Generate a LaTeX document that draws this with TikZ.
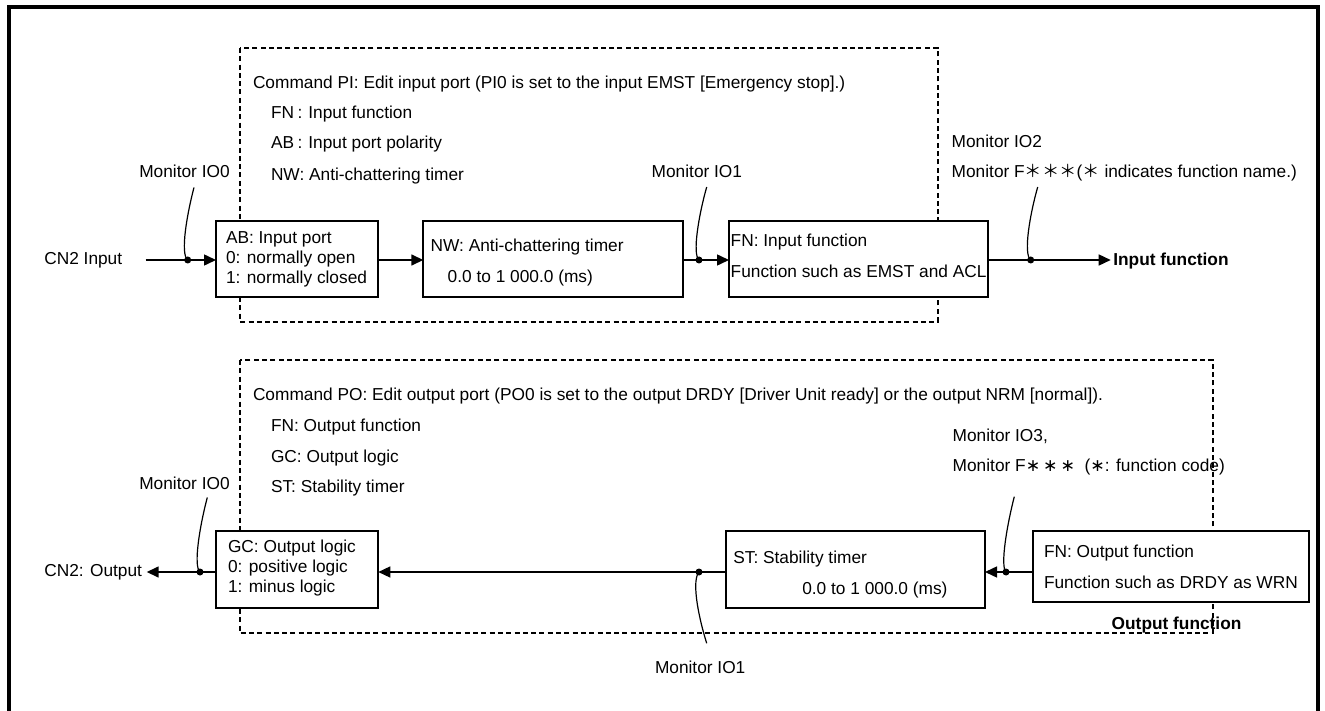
\documentclass[tikz,border=0pt]{standalone}
\usepackage{fontspec}
\setmainfont{Liberation Sans}
\newfontfamily\cjk{Noto Sans CJK JP}
\newfontfamily\dvs{DejaVu Sans}
\usetikzlibrary{arrows.meta}
\begin{document}
\begin{tikzpicture}[x=1pt,y=-1pt,
  every node/.style={inner sep=0pt,outer sep=0pt,font=\fontsize{17.3}{20}\selectfont},
  txt/.style={anchor=base west},
  boxx/.style={draw,line width=1.8pt,fill=white,rectangle},
  dsh/.style={line width=1.8pt,dash pattern=on 5pt off 3.3pt},
  arr/.style={line width=1.5pt,-{Triangle[length=12pt,width=11pt]}},
  dotc/.style={circle,fill=black,minimum size=7pt},
  lead/.style={line width=1.2pt}]
\useasboundingbox (0,0) rectangle (1325,711);
% outer frame
\draw[line width=4.2pt] (8.7,711) -- (8.7,7.2) -- (1318,7.2) -- (1318,711);
% dashed groups
\draw[dsh] (240,48) rectangle (937.7,321.7);
\draw[dsh] (240,360) rectangle (1212.7,633.3);
% flow line levels
\coordinate (uline) at (0,260);
\coordinate (lline) at (0,572);
% ---------- upper ----------
\node[txt] (cmdpi) at (253,88.3) {Command PI: Edit input port (PI0 is set to the input EMST [Emergency stop].)};
\node[txt] (pifn) at (271,118.3) {FN\hspace{3.5pt}:\hspace{6pt}Input function};
\node[txt] (piab) at (271,149) {AB\hspace{3.5pt}:\hspace{6pt}Input port polarity};
\node[txt] (pinw) at (271,181) {NW: Anti-chattering timer};
\node[txt] (mio0u) at (139.3,177.3) {Monitor IO0};
\node[txt] (cn2in) at (44.3,265) {CN2 Input};
\node[txt] (mio1u) at (651.7,177.3) {Monitor IO1};
\node[txt] (mio2) at (951.7,147.3) {Monitor IO2};
\node[txt] (mfu) at (951.7,177.3) {Monitor F{\cjk ＊＊＊}({\cjk ＊} indicates function name.)};
\node[txt,font=\fontsize{17.3}{20}\selectfont\bfseries] (infn) at (1113.3,265.7) {Input function};

\node[boxx,minimum width=162.3pt,minimum height=76.3pt] (ab) at (297.15,259.15) {};
\node[boxx,minimum width=259.7pt,minimum height=76.3pt] (nw) at (553.15,259.15) {};
\node[boxx,minimum width=259.3pt,minimum height=76.3pt] (fni) at (858.65,259.15) {};

\node[txt] (abt1) at (226,243.3) {AB: Input port};
\node[txt] (abt2) at (226,263.3) {0: normally open};
\node[txt] (abt3) at (226,283.3) {1: normally closed};
\node[txt] (nwt1) at (430.7,251.7) {NW: Anti-chattering timer};
\node[txt] (nwt2) at (447.7,282.7) {0.0 to 1 000.0 (ms)};
\node[txt] (fnt1) at (730.7,246.7) {FN: Input function};
\node[txt] (fnt2) at (730.7,277.7) {Function such as EMST and ACL};

\coordinate (cn2inend) at (145.7,260);
\draw[arr] (cn2inend) -- (ab.west |- uline);
\draw[arr] (ab.east |- uline) -- (nw.west |- uline);
\draw[arr] (nw.east |- uline) -- (fni.west |- uline);
\draw[arr] (fni.east |- uline) -- ([xshift=-2.6pt]infn.west |- uline);

\node[dotc] (d0) at (187.7,260) {};
\node[dotc] (d1) at (699,260) {};
\node[dotc] (d2) at (1030.7,260) {};
\coordinate (l0) at (194,187.5);
\coordinate (l1) at (706.7,187);
\coordinate (l2) at (1037.7,187);
\draw[lead] (l0) .. controls (187,214) and (180,254) .. (d0.center);
\draw[lead] (l1) .. controls (699,214) and (692,254) .. (d1.center);
\draw[lead] (l2) .. controls (1030,214) and (1023,254) .. (d2.center);

% ---------- lower ----------
\node[txt] (cmdpo) at (253,400) {Command PO: Edit output port (PO0 is set to the output DRDY [Driver Unit ready] or the output NRM [normal]).};
\node[txt] (pofn) at (271,431) {FN: Output function};
\node[txt] (pogc) at (271,462) {GC: Output logic};
\node[txt] (post) at (271,492.7) {ST: Stability timer};
\node[txt] (mio0l) at (139.3,489.3) {Monitor IO0};
\node[txt] (cn2out) at (44.3,576) {CN2: Output};
\node[txt] (mio1l) at (655,673.3) {Monitor IO1};
\node[txt] (mio3) at (952.7,441.7) {Monitor IO3,};
\node[txt] (mfl) at (952.7,471.7) {Monitor F{\dvs ∗}\,{\dvs ∗}\,{\dvs ∗}\ \ ({\dvs ∗}: function code)};
\node[txt,font=\fontsize{17.3}{20}\selectfont\bfseries] (outfn) at (1111.7,629.3) {Output function};

\node[boxx,minimum width=162.3pt,minimum height=77.6pt] (gc) at (297.15,569.5) {};
\node[boxx,minimum width=259pt,minimum height=77.6pt] (st) at (855.5,569.5) {};
\node[boxx,minimum width=276pt,minimum height=71pt] (fno) at (1170.7,566.2) {};

\node[txt] (gct1) at (228,552.3) {GC: Output logic};
\node[txt] (gct2) at (228,572.3) {0: positive logic};
\node[txt] (gct3) at (228,592.7) {1: minus logic};
\node[txt] (stt1) at (733.3,563.3) {ST: Stability timer};
\node[txt] (stt2) at (802.3,594.3) {0.0 to 1 000.0 (ms)};
\node[txt] (fnot1) at (1044,557.7) {FN: Output function};
\node[txt] (fnot2) at (1044,588.7) {Function such as DRDY as WRN};

\coordinate (cn2outend) at (146.7,572);
\draw[arr] (gc.west |- lline) -- (cn2outend);
\draw[arr] (st.west |- lline) -- (gc.east |- lline);
\draw[arr] (fno.west |- lline) -- (st.east |- lline);

\node[dotc] (e0) at (200,572) {};
\node[dotc] (e1) at (699,572) {};
\node[dotc] (e3) at (1006,572) {};
\coordinate (m0) at (207.3,497.5);
\coordinate (m1) at (706.7,643.3);
\coordinate (m3) at (1014.3,496.7);
\draw[lead] (m0) .. controls (200,525) and (193,566) .. (e0.center);
\draw[lead] (e1.center) .. controls (692,580) and (697,612) .. (m1);
\draw[lead] (m3) .. controls (1007,525) and (1000,566) .. (e3.center);
\end{tikzpicture}
\end{document}
